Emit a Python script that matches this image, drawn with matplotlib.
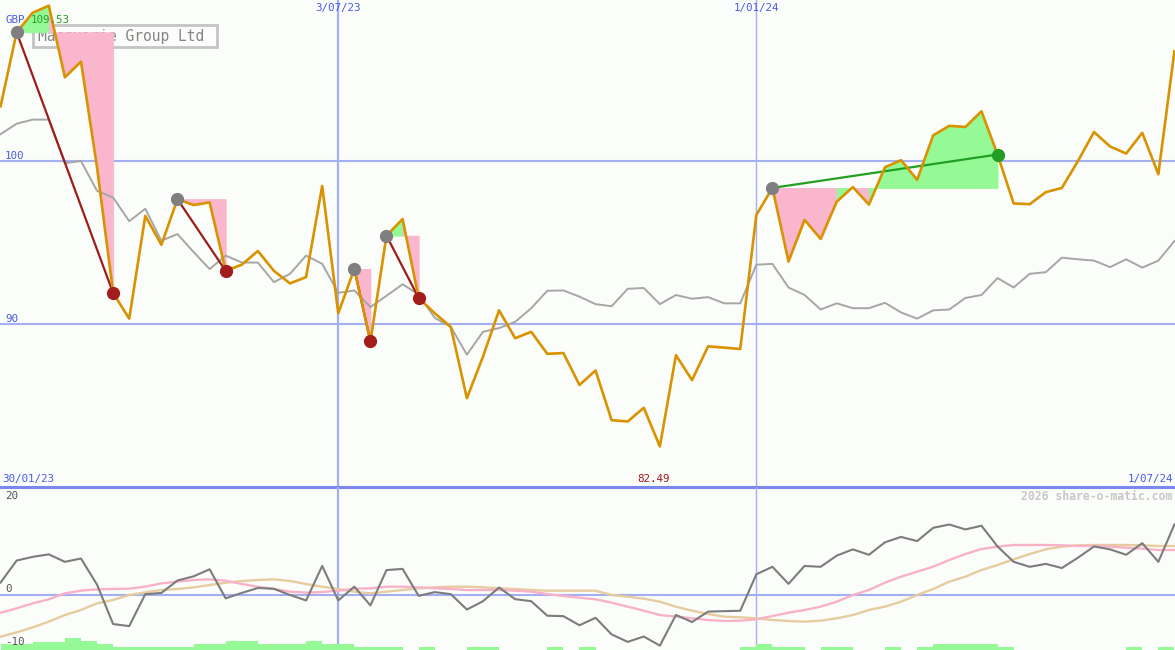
import matplotlib
matplotlib.use('Agg')
import matplotlib.pyplot as plt
from matplotlib.patches import Rectangle
import pandas as pd

# weekly closes, GBP
dates = pd.date_range('2023-02-06', periods=74, freq='7D')
price = [103.36, 107.9, 109.1, 109.53, 105.14, 106.1, 99.6, 91.9, 90.33, 96.64,
         94.86, 97.66, 97.3, 97.46, 93.26, 93.64, 94.48, 93.26, 92.49, 92.88,
         98.47, 90.66, 93.38, 88.93, 95.42, 96.44, 91.6, 90.66, 89.82, 85.45,
         88.0, 90.84, 89.13, 89.52, 88.17, 88.22, 86.26, 87.15, 84.1, 84.02,
         84.86, 82.49, 88.09, 86.56, 88.63, 88.55, 88.47, 96.69, 98.35, 93.84,
         96.39, 95.22, 97.51, 98.4, 97.33, 99.62, 100.05, 98.85, 101.58, 102.16,
         102.09, 103.05, 100.4, 97.4, 97.35, 98.09, 98.35, 100.0, 101.78, 100.89,
         100.46, 101.73, 99.19, 106.74]
avg = [101.65, 102.29, 102.54, 102.54, 99.87, 100.0, 98.17, 97.76, 96.31, 97.07,
       95.11, 95.52, 94.42, 93.37, 94.2, 93.77, 93.77, 92.57, 93.08, 94.2,
       93.69, 91.91, 92.06, 91.04, 91.73, 92.44, 91.81, 90.38, 89.82, 88.12,
       89.52, 89.75, 90.13, 90.97, 92.04, 92.06, 91.68, 91.22, 91.09, 92.16,
       92.21, 91.22, 91.78, 91.55, 91.65, 91.27, 91.27, 93.64, 93.69, 92.24,
       91.78, 90.89, 91.27, 90.97, 90.97, 91.3, 90.71, 90.33, 90.84, 90.89,
       91.6, 91.78, 92.82, 92.24, 93.08, 93.18, 94.07, 93.97, 93.89, 93.49,
       93.97, 93.46, 93.89, 95.09]

# lower panel
osc = [2.65, 7.33, 8.12, 8.65, 7.06, 7.77, 2.2, -6.18, -6.62, 0.18,
       0.44, 3.09, 3.97, 5.47, -0.71, 0.44, 1.5, 1.32, 0.0, -1.15,
       6.18, -1.15, 1.77, -2.21, 5.3, 5.56, -0.18, 0.62, 0.18, -3.09,
       -1.32, 1.59, -0.88, -1.32, -4.41, -4.5, -6.44, -4.85, -8.38, -9.97,
       -8.83, -10.77, -4.24, -5.74, -3.53, -3.44, -3.35, 4.41, 6.0, 2.38,
       6.18, 6.0, 8.38, 9.71, 8.56, 11.21, 12.36, 11.47, 14.3, 15.0,
       13.95, 14.74, 10.33, 7.06, 6.0, 6.62, 5.74, 7.94, 10.33, 9.71,
       8.56, 11.03, 7.06, 15.0]
osc_fast = [-3.76, -2.84, -1.77, -0.92, 0.35, 0.92, 1.2, 1.28, 1.35, 1.77,
            2.48, 2.84, 3.19, 3.33, 3.05, 2.34, 1.77, 1.28, 0.71, 0.5,
            0.64, 0.92, 1.35, 1.42, 1.77, 1.77, 1.63, 1.42, 1.28, 1.06,
            1.06, 1.06, 0.92, 0.71, 0.21, -0.21, -0.57, -0.92, -1.63, -2.48,
            -3.33, -4.26, -4.6, -4.96, -5.32, -5.53, -5.46, -5.18, -4.47, -3.76,
            -3.19, -2.48, -1.42, 0.0, 1.06, 2.62, 3.9, 4.96, 6.03, 7.45,
            8.72, 9.79, 10.28, 10.64, 10.64, 10.64, 10.57, 10.43, 10.43, 10.28,
            10.07, 9.86, 9.57, 9.57]
osc_slow = [-8.87, -7.94, -6.88, -5.67, -4.26, -3.19, -1.77, -1.06, 0.0, 0.57,
            1.06, 1.28, 1.63, 2.13, 2.62, 2.98, 3.19, 3.33, 2.98, 2.34,
            1.77, 1.28, 0.71, 0.35, 0.71, 1.06, 1.42, 1.63, 1.77, 1.77,
            1.63, 1.42, 1.28, 1.06, 0.92, 0.92, 0.92, 0.92, 0.0, -0.35,
            -0.78, -1.42, -2.48, -3.33, -4.04, -4.6, -4.75, -4.96, -5.32, -5.53,
            -5.67, -5.46, -4.96, -4.26, -3.19, -2.48, -1.42, 0.0, 1.28, 2.84,
            3.9, 5.32, 6.38, 7.59, 8.72, 9.72, 10.28, 10.57, 10.64, 10.64,
            10.64, 10.57, 10.43, 10.43]
bars = [1.28, 1.28, 1.7, 1.7, 2.55, 1.9, 1.28, 0.64, 0.64, 0.64,
        0.64, 0.64, 1.28, 1.28, 1.9, 1.9, 1.28, 1.28, 1.28, 1.9,
        1.28, 1.28, 0.64, 0.64, 0.64, 0, 0.64, 0, 0, 0.64,
        0.64, 0, 0, 0, 0.64, 0, 0.64, 0, 0, 0,
        0, 0, 0, 0, 0, 0, 0.64, 1.28, 0.64, 0.64,
        0, 0.64, 0.64, 0, 0, 0.64, 0, 0.64, 1.28, 1.28,
        1.28, 1.28, 0.64, 0, 0, 0, 0, 0, 0, 0,
        0.64, 0, 0.64]

# trades (week index of entry / exit)
buy_idx = [1, 11, 22, 24, 48]
sell_idx = [7, 14, 23, 26, 62]

date_lines = ['2023-07-03', '2024-01-01']
date_labels = ['3/07/23', '1/01/24']
start_label, end_label = '30/01/23', '1/07/24'
title = 'Macquarie Group Ltd'

bg = '#fbfdfa'
grid = '#a3aff0'
green_fill, pink_fill = '#95f995', '#f9b6cc'
mono = 'DejaVu Sans Mono'

W, H = 1175, 650
fig = plt.figure(figsize=(W / 100, H / 100), dpi=100, facecolor=bg)
ax = fig.add_axes([0, 163 / H, 1, 487 / H])
ax2 = fig.add_axes([0, 0, 1, 163 / H])
for a in (ax, ax2):
    a.axis('off')
    a.set_xlim(pd.Timestamp('2023-02-06') - pd.Timedelta(hours=6),
               pd.Timestamp('2024-07-01') + pd.Timedelta(hours=6))
ax.set_ylim(80.0, 109.88)
ax2.set_ylim(-11.7, 22.98)


def px(x, y):
    return x / W, 1 - y / H


# grid
for v in (100, 90):
    ax.axhline(v, color=grid, lw=1.5, zorder=0.5)
ax2.axhline(0, color=grid, lw=1.5, zorder=0.5)
for d, lw in zip(date_lines, (1.6, 1.0)):
    for a in (ax, ax2):
        a.axvline(pd.Timestamp(d), color=grid, lw=lw, zorder=0.5)
ax.axhline(80.0, color='#7a88ee', lw=2.2, zorder=6, clip_on=False)

# title box (sits under the trade fills)
ax.add_patch(Rectangle(px(33, 47), 184 / W, 22 / H, transform=fig.transFigure,
                       facecolor=bg, edgecolor='#c4c4c4', lw=2, zorder=0.8))
ax.text(*px(38, 36.5), title, transform=fig.transFigure, fontsize=10.5,
        family=mono, color='#858585', va='center', ha='left', zorder=0.9)

# trade fills, lines and dots
for b, s in zip(buy_idx, sell_idx):
    level = price[b]
    for k in range(b, s):
        col = green_fill if price[k + 1] >= level else pink_fill
        ax.fill_between(dates[k:k + 2], price[k:k + 2], level, color=col,
                        lw=0.6, edgecolor=col, zorder=1)
    win = price[s] > level
    ax.plot([dates[b], dates[s]], [level, price[s]],
            color='#22a022' if win else '#9e1c1c', lw=1.6, zorder=3)

ax.plot(dates, avg, color='#a6a6a6', lw=1.4, zorder=2)
ax.plot(dates, price, color='#d99200', lw=1.9, zorder=4)

for b, s in zip(buy_idx, sell_idx):
    ax.plot(dates[b], price[b], 'o', ms=8.5, color='#7f7f7f', zorder=5)
    ax.plot(dates[s], price[s], 'o', ms=8.5,
            color='#239c23' if price[s] > price[b] else '#a31d1d', zorder=5)

# lower panel
ax2.bar(dates[:-1], bars, width=7, align='edge', bottom=-11.7,
        color='#95f995', lw=0, zorder=1)
ax2.plot(dates, osc_slow, color='#e6cc9e', lw=1.7, zorder=2)
ax2.plot(dates, osc_fast, color='#f8b2c8', lw=1.7, zorder=2)
ax2.plot(dates, osc, color='#7c7c7c', lw=1.5, zorder=3)

# labels
lab = dict(family=mono, fontsize=7.8, va='center', zorder=7)
fig.text(*px(5, 20), 'GBP', color='#4a5ae6', ha='left', **lab)
fig.text(*px(31, 20), f'{max(price):.2f}', color='#22a022', ha='left', **lab)
fig.text(*px(5, 156), '100', color='#4a5ae6', ha='left', **lab)
fig.text(*px(5, 319), '90', color='#4a5ae6', ha='left', **lab)
for d, t in zip(date_lines, date_labels):
    ax.annotate(t, (pd.Timestamp(d), 1), xycoords=('data', 'axes fraction'),
                xytext=(0, -8), textcoords='offset pixels', color='#4a5ae6',
                ha='center', **lab)
fig.text(*px(2, 479), start_label, color='#4a5ae6', ha='left', **lab)
fig.text(*px(1173, 479), end_label, color='#4a5ae6', ha='right', **lab)
lo = price.index(min(price))
ax.annotate(f'{min(price):.2f}', (dates[lo], 0), xycoords=('data', 'axes fraction'),
            xytext=(-6, 8), textcoords='offset pixels', color='#a01818',
            ha='center', **lab)
fig.text(*px(5, 496), '20', color='#555555', ha='left', **lab)
fig.text(*px(5, 589), '0', color='#555555', ha='left', **lab)
fig.text(*px(5, 642), '-10', color='#555555', ha='left', **lab)
fig.text(*px(1172, 496), '2026 share-o-matic.com', family=mono, fontsize=8.3,
         fontweight='bold', color='#c8c8c8', ha='right', va='center')

fig.savefig('out.png', dpi=100, facecolor=bg)
